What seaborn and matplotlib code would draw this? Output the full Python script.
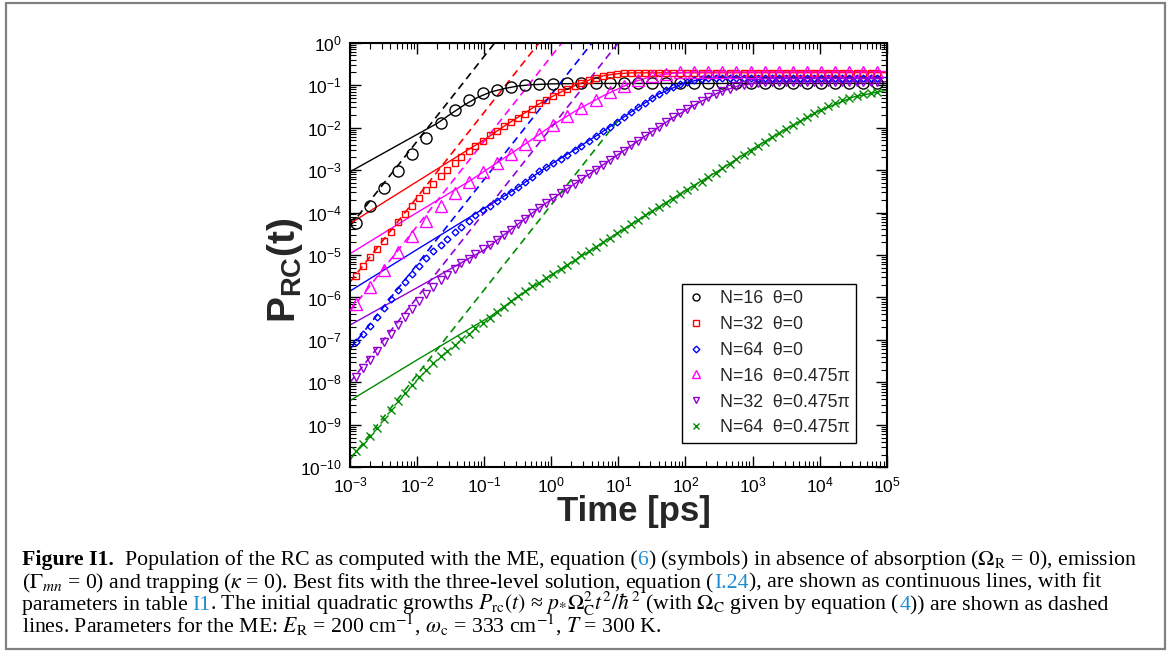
import numpy as np
import matplotlib
matplotlib.use('Agg')
import matplotlib.pyplot as plt
import seaborn as sns
from matplotlib.lines import Line2D
from matplotlib.patches import Rectangle
from matplotlib.ticker import LogLocator, NullFormatter

sns.set_style('ticks')
plt.rcParams['font.family'] = ['Liberation Sans', 'DejaVu Sans']
plt.rcParams['mathtext.fontset'] = 'custom'
plt.rcParams['mathtext.rm'] = 'Liberation Sans'
plt.rcParams['mathtext.it'] = 'Liberation Sans:italic'
plt.rcParams['mathtext.bf'] = 'Liberation Sans:bold'
plt.rcParams['axes.unicode_minus'] = False

# ---- data (log10 values) ----
# sampling times of the ME runs, log10(t / ps)
log_t = [-2.91, -2.80, -2.70, -2.60, -2.49, -2.39, -2.28, -2.18, -2.07, -1.97,
         -1.86, -1.76, -1.65, -1.55, -1.44, -1.34, -1.23, -1.13, -1.02, -0.92,
         -0.81, -0.71, -0.60, -0.50, -0.39, -0.29, -0.18, -0.08, 0.03, 0.14,
         0.24, 0.35, 0.45, 0.56, 0.66, 0.77, 0.87, 0.98, 1.08, 1.19,
         1.29, 1.40, 1.50, 1.61, 1.71, 1.82, 1.92, 2.03, 2.13, 2.24,
         2.34, 2.45, 2.55, 2.66, 2.76, 2.87, 2.97, 3.08, 3.18, 3.29,
         3.39, 3.50, 3.60, 3.71, 3.81, 3.92, 4.02, 4.13, 4.23, 4.34,
         4.44, 4.55, 4.65, 4.76, 4.86]

# N=16 series are shown on every second time
n16_t0 = [-4.24, -3.84, -3.43, -3.03, -2.63, -2.25, -1.90, -1.59, -1.35, -1.19,
          -1.11, -1.05, -1.00, -0.98, -0.97, -0.96, -0.96, -0.96, -0.96, -0.96,
          -0.96, -0.96, -0.96, -0.96, -0.96, -0.96, -0.96, -0.96, -0.96, -0.96,
          -0.96, -0.96, -0.96, -0.96, -0.96, -0.96, -0.96, -0.96]
n16_t475 = [-6.15, -5.75, -5.35, -4.94, -4.56, -4.19, -3.84, -3.54, -3.29, -3.05,
            -2.83, -2.61, -2.39, -2.16, -1.93, -1.73, -1.53, -1.35, -1.17, -1.01,
            -0.89, -0.79, -0.73, -0.70, -0.69, -0.68, -0.68, -0.68, -0.68, -0.68,
            -0.68, -0.68, -0.68, -0.68, -0.68, -0.68, -0.68, -0.68]

n32_t0 = [-5.50, -5.27, -5.05, -4.86, -4.66, -4.45, -4.22, -4.03, -3.84, -3.66,
          -3.48, -3.32, -3.14, -2.99, -2.84, -2.70, -2.56, -2.43, -2.31, -2.18,
          -2.07, -1.96, -1.86, -1.77, -1.67, -1.55, -1.43, -1.35, -1.26, -1.17,
          -1.10, -1.02, -0.95, -0.88, -0.82, -0.78, -0.755, -0.735, -0.72, -0.71,
          -0.705, -0.705, -0.705, -0.705, -0.705, -0.705, -0.705, -0.705, -0.705, -0.705,
          -0.705, -0.705, -0.705, -0.705, -0.705, -0.705, -0.705, -0.705, -0.705, -0.705,
          -0.705, -0.705, -0.705, -0.705, -0.705, -0.705, -0.705, -0.705, -0.705, -0.705,
          -0.705, -0.705, -0.705, -0.705, -0.705]
n64_t0 = [-7.06, -6.87, -6.68, -6.45, -6.24, -6.03, -5.83, -5.64, -5.44, -5.26,
          -5.08, -4.91, -4.77, -4.62, -4.47, -4.33, -4.19, -4.06, -3.94, -3.84,
          -3.72, -3.62, -3.51, -3.40, -3.28, -3.16, -3.03, -2.93, -2.84, -2.74,
          -2.64, -2.53, -2.43, -2.31, -2.20, -2.09, -1.99, -1.86, -1.75, -1.63,
          -1.52, -1.41, -1.31, -1.21, -1.12, -1.04, -0.98, -0.93, -0.89, -0.85,
          -0.83, -0.82, -0.82, -0.82, -0.82, -0.82, -0.82, -0.82, -0.82, -0.82,
          -0.82, -0.82, -0.82, -0.82, -0.82, -0.82, -0.82, -0.82, -0.82, -0.82,
          -0.82, -0.82, -0.82, -0.82, -0.82]
n32_t475 = [-7.88, -7.66, -7.47, -7.27, -7.06, -6.85, -6.65, -6.47, -6.27, -6.08,
            -5.92, -5.76, -5.60, -5.46, -5.32, -5.20, -5.09, -4.98, -4.87, -4.76,
            -4.64, -4.52, -4.40, -4.28, -4.15, -4.02, -3.89, -3.77, -3.66, -3.55,
            -3.44, -3.33, -3.22, -3.10, -2.99, -2.88, -2.76, -2.65, -2.54, -2.42,
            -2.32, -2.20, -2.10, -1.98, -1.87, -1.76, -1.66, -1.56, -1.47, -1.38,
            -1.29, -1.21, -1.14, -1.08, -1.03, -0.99, -0.96, -0.94, -0.93, -0.92,
            -0.92, -0.92, -0.92, -0.92, -0.92, -0.92, -0.92, -0.92, -0.92, -0.92,
            -0.92, -0.92, -0.92, -0.92, -0.92]
n64_t475 = [-9.62, -9.45, -9.26, -9.07, -8.86, -8.65, -8.44, -8.24, -8.05, -7.87,
            -7.70, -7.55, -7.39, -7.25, -7.12, -6.99, -6.86, -6.73, -6.60, -6.48,
            -6.35, -6.22, -6.08, -5.96, -5.84, -5.74, -5.66, -5.55, -5.44, -5.33,
            -5.23, -5.12, -5.01, -4.90, -4.80, -4.70, -4.60, -4.49, -4.38, -4.27,
            -4.17, -4.06, -3.97, -3.87, -3.77, -3.67, -3.57, -3.47, -3.37, -3.27,
            -3.16, -3.06, -2.96, -2.85, -2.75, -2.64, -2.54, -2.43, -2.33, -2.23,
            -2.13, -2.03, -1.93, -1.84, -1.75, -1.66, -1.58, -1.50, -1.43, -1.36,
            -1.30, -1.25, -1.21, -1.18, -1.16]

# three-level fits (continuous lines), log10 t and log10 P
fit16_t0_t = [-3, -2.5, -2, -1.7, -1.5, -1.3, -1.1, -0.9, -0.7, -0.5, -0.3, 0, 0.5, 1, 5]
fit16_t0_p = [-3.04, -2.60, -2.16, -1.90, -1.68, -1.47, -1.29, -1.16, -1.08, -1.02, -0.99, -0.97, -0.96, -0.96, -0.96]
fit32_t0_t = [-3, -2, -1.3, -1.0, -0.8, -0.6, -0.4, -0.2, 0, 0.2, 0.4, 0.6, 0.8, 1.0, 1.2, 5]
fit32_t0_p = [-4.26, -3.27, -2.58, -2.29, -2.07, -1.86, -1.66, -1.46, -1.28, -1.12, -0.98, -0.86, -0.77, -0.73, -0.71, -0.705]
fit64_t0_t = [-3, -2, -1, -0.8, -0.5, -0.2, 0, 0.4, 0.8, 1.2, 1.6, 2.0, 2.3, 2.6, 5]
fit64_t0_p = [-5.85, -4.87, -3.90, -3.71, -3.41, -3.07, -2.86, -2.47, -2.06, -1.62, -1.21, -0.94, -0.84, -0.82, -0.82]
fit16_t475_t = [-3, -2, -1.2, -0.8, -0.4, 0, 0.4, 0.8, 1.2, 1.5, 1.8, 2.1, 5]
fit16_t475_p = [-4.97, -4.0, -3.24, -2.82, -2.40, -1.96, -1.57, -1.23, -0.94, -0.79, -0.72, -0.69, -0.68]
fit32_t475_t = [-3, -2, -1, -0.6, -0.2, 0.2, 0.6, 1.0, 1.4, 1.8, 2.2, 2.5, 2.8, 3.1, 3.4, 5]
fit32_t475_p = [-6.65, -5.77, -4.88, -4.40, -3.91, -3.48, -3.06, -2.63, -2.20, -1.78, -1.41, -1.17, -1.01, -0.94, -0.92, -0.92]
fit64_t475_t = [-3, -2, -0.9, -0.5, 0, 0.5, 1, 1.5, 2, 2.5, 3, 3.5, 4, 4.5, 5]
fit64_t475_p = [-8.43, -7.47, -6.44, -5.98, -5.47, -4.98, -4.47, -3.97, -3.48, -3.01, -2.50, -2.03, -1.60, -1.28, -1.12]

# initial quadratic growths (dashed), drawn from 1e-3 ps to 10 ps
quad_t = [-3.0, 1.0]
quad16_t0 = [-4.32, 3.68]
quad32_t0 = [-5.64, 2.36]
quad64_t0 = [-7.22, 0.78]
quad16_t475 = [-6.32, 1.68]
quad32_t475 = [-8.0, 0.0]
quad64_t475 = [-9.82, -1.82]

labels = ['N=16  θ=0', 'N=32  θ=0', 'N=64  θ=0',
          'N=16  θ=0.475π', 'N=32  θ=0.475π', 'N=64  θ=0.475π']


def lin(v):
    return np.power(10.0, np.asarray(v, dtype=float))


W, H = 1174, 661
fig = plt.figure(figsize=(W / 100, H / 100), dpi=100)
ax = fig.add_axes([350 / W, 1 - 467.3 / H, 536.7 / W, 424.6 / H])

t_all = lin(log_t)
series = [
    # sym values, times, fit t, fit p, quad, color, marker, size, legend size
    (n16_t0, t_all[::2], fit16_t0_t, fit16_t0_p, quad16_t0, 'black', 'o', 8.0, 5.0),
    (n32_t0, t_all, fit32_t0_t, fit32_t0_p, quad32_t0, '#ff0000', 's', 4.8, 4.0),
    (n64_t0, t_all, fit64_t0_t, fit64_t0_p, quad64_t0, '#0000ff', 'D', 3.5, 3.4),
    (n16_t475, t_all[::2], fit16_t475_t, fit16_t475_p, quad16_t475, '#ff00ff', '^', 8.8, 6.0),
    (n32_t475, t_all, fit32_t475_t, fit32_t475_p, quad32_t475, '#9400d3', 'v', 5.4, 4.6),
    (n64_t475, t_all, fit64_t475_t, fit64_t475_p, quad64_t475, '#008c00', 'x', 5.2, 4.4),
]

handles = []
for (vals, tt, ft, fp, qd, c, m, ms, lms), lab in zip(series, labels):
    sns.lineplot(x=lin(ft), y=lin(fp), color=c, lw=1.0,
                 estimator=None, sort=False, ax=ax, zorder=2)
    sns.lineplot(x=lin(quad_t), y=lin(qd), color=c, lw=1.2,
                 linestyle=(0, (4.5, 3)), estimator=None, sort=False, ax=ax, zorder=2)
    sns.lineplot(x=tt, y=lin(vals), color=c, linestyle='', marker=m,
                 markersize=ms, markerfacecolor='none', markeredgecolor=c,
                 markeredgewidth=1.0, estimator=None, sort=False, ax=ax, zorder=3)
    handles.append(Line2D([], [], linestyle='', marker=m, markersize=lms,
                          markerfacecolor='none', markeredgecolor=c,
                          markeredgewidth=1.0, label=lab))

ax.set_xscale('log')
ax.set_yscale('log')
ax.set_xlim(1e-3, 1e5)
ax.set_ylim(1e-10, 1e0)
for axis in (ax.xaxis, ax.yaxis):
    axis.set_major_locator(LogLocator(base=10, numticks=30))
    axis.set_minor_locator(LogLocator(base=10, subs=np.arange(2, 10), numticks=30))
    axis.set_minor_formatter(NullFormatter())
ax.tick_params(which='both', direction='in', top=True, right=True, colors='black')
ax.tick_params(which='major', length=8, width=1.0, labelsize=12.5, pad=6)
ax.tick_params(which='minor', length=4, width=0.8)
for sp in ax.spines.values():
    sp.set_linewidth(1.5)
    sp.set_color('black')
ax.set_xlabel('')
ax.set_ylabel('')

leg = ax.legend(handles=handles, loc='lower right', bbox_to_anchor=(0.9428, 0.058),
                fontsize=12.8, frameon=True, fancybox=False, framealpha=1,
                edgecolor='black', handlelength=0.9, handletextpad=0.89,
                labelspacing=0.5, borderpad=0.35, borderaxespad=0)
leg.get_frame().set_linewidth(1.0)

fig.text(285 / W, 1 - 270 / H, r'$\mathbf{P}_{\mathbf{RC}}\mathbf{(t)}$', rotation=90,
         ha='center', va='center', fontsize=28)
fig.text(634 / W, 1 - 511 / H, 'Time [ps]', ha='center', va='center',
         fontsize=25, fontweight='bold')

# frame around figure + caption
fig.patches.append(Rectangle((6 / W, 1 - 649 / H), 1159 / W, 646 / H,
                             transform=fig.transFigure, fill=False,
                             edgecolor='#808080', linewidth=1.6))

blue_ref = '#1e8bd2'
k = 'black'
cap_lines = [
    (565, [('Figure I1.', k, 'bold', 11), ('Population of the RC as computed with the ME, equation (', k, 'normal', 0),
           ('6', blue_ref, 'normal', 0),
           (r') (symbols) in absence of absorption ($\Omega_{\rm R}$ = 0), emission', k, 'normal', 0)]),
    (587.7, [(r'($\Gamma_{mn}$ = 0) and trapping ($\kappa$ = 0). Best fits with the three-level solution, equation (', k, 'normal', 0),
             ('I.24', blue_ref, 'normal', 0),
             ('), are shown as continuous lines, with fit', k, 'normal', 0)]),
    (610, [('parameters in table', k, 'normal', 4), ('I1', blue_ref, 'normal', 0),
           (r'. The initial quadratic growths $P_{\rm rc}(t)$ ≈ $p_{*}\Omega_{\rm C}^{2}t^{2}/\hbar^{2}$ (with $\Omega_{\rm C}$ given by equation (', k, 'normal', 0),
           ('4', blue_ref, 'normal', 0), (')) are shown as dashed', k, 'normal', 0)]),
    (632.3, [(r'lines. Parameters for the ME: $E_{\rm R}$ = 200 cm$^{-1}$, $\omega_{\rm c}$ = 333 cm$^{-1}$, $T$ = 300 K.', k, 'normal', 0)]),
]
renderer = fig.canvas.get_renderer()
for yb, pieces in cap_lines:
    x = 22.0
    for s, c, w, gap in pieces:
        t = fig.text(x / W, 1 - yb / H, s, color=c, fontsize=15.7, fontweight=w,
                     family=['Liberation Serif', 'DejaVu Serif'], math_fontfamily='stix',
                     va='baseline')
        bb = t.get_window_extent(renderer=renderer)
        x += bb.width + gap

fig.savefig('out.png', dpi=100, facecolor='white')
